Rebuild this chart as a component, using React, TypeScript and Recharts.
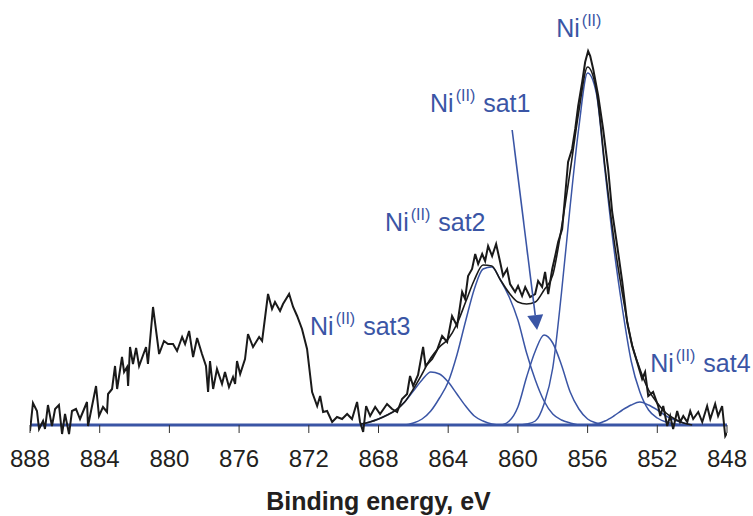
import React from 'react';
import { LineChart, Line, XAxis, YAxis, ReferenceLine, ReferenceDot, Label } from 'recharts';

const BLUE = '#3A55A5';
const BLACK = '#1A1A1A';
const FONT = '"Liberation Sans", Arial, Helvetica, sans-serif';

// Raw spectrum (binding energy, eV / intensity, arbitrary units)
const rawEnergy = [
  888.0, 887.83, 887.6, 887.48, 887.25, 887.14, 886.97, 886.74, 886.56, 886.34, 886.16, 885.99, 885.76, 885.59, 885.36, 885.13,
  884.73, 884.67, 884.21, 884.04, 883.81, 883.58, 883.52, 883.29, 883.12, 883.0, 882.72, 882.6, 882.43, 882.37, 882.26, 882.09,
  881.91, 881.74, 881.34, 881.23, 880.94, 880.59, 880.31, 880.08, 879.79, 879.56, 879.27, 879.1, 878.87, 878.64, 878.41, 878.13,
  877.9, 877.78, 877.67, 877.49, 877.27, 876.98, 876.81, 876.58, 876.35, 876.23, 876.12, 875.94, 875.66, 875.49, 875.2, 874.85,
  874.68, 874.34, 874.11, 873.94, 873.65, 873.48, 873.13, 872.9, 872.67, 872.39, 872.1, 871.81, 871.52, 871.35, 871.18, 870.95,
  870.66, 870.38, 870.09, 869.8, 869.52, 869.23, 869.06, 868.88, 868.71, 868.48, 868.19, 867.91, 867.51, 867.22, 866.93, 866.65,
  866.36, 866.19, 866.01, 865.73, 865.44, 865.3, 864.92, 864.64, 864.35, 864.06, 863.78, 863.49, 863.2, 863.03, 862.86, 862.63,
  862.45, 862.28, 862.05, 861.88, 861.71, 861.48, 861.25, 861.02, 860.85, 860.62, 860.45, 860.16, 859.99, 859.76, 859.58, 859.3,
  859.01, 858.84, 858.61, 858.44, 858.26, 858.03, 857.86, 857.69, 857.46, 857.29, 857.12, 856.89, 856.71, 856.54, 856.31, 856.14,
  855.97, 855.85, 855.68, 855.39, 855.11, 854.82, 854.59, 854.3, 854.01, 853.73, 853.44, 853.16, 852.87, 852.7, 852.52, 852.24,
  851.95, 851.83, 851.66, 851.43, 851.26, 851.09, 850.86, 850.69, 850.51, 850.28, 850.11, 849.94, 849.65, 849.42, 849.14, 848.96,
  848.68, 848.51, 848.28, 848.1, 848.0,
];
const rawCounts = [
  -6, 22, 14, -4, 4, -4, 20, -1, 16, 20, -9, 11, -9, 14, 16, 6,
  23, -1, 39, 9, 18, 13, 31, 36, 59, 36, 68, 53, 58, 39, 78, 61,
  77, 59, 78, 61, 118, 71, 84, 81, 81, 74, 88, 81, 94, 68, 87, 71,
  59, 33, 64, 36, 56, 41, 53, 38, 48, 41, 64, 51, 66, 91, 78, 88,
  84, 131, 116, 123, 114, 121, 131, 118, 109, 96, 76, 33, 19, 29, 13, 14,
  3, 8, 6, 11, 6, 23, 3, -7, 19, 9, 18, 11, 21, 16, 13, 26,
  31, 49, 39, 50, 78, 59, 66, 75, 89, 83, 109, 99, 133, 126, 149, 156,
  171, 161, 171, 164, 179, 169, 181, 163, 149, 156, 141, 133, 139, 129, 138, 128,
  131, 144, 138, 153, 131, 156, 169, 183, 196, 229, 263, 276, 296, 319, 343, 363,
  374, 369, 356, 329, 296, 256, 213, 179, 143, 103, 79, 63, 46, 53, 29, 33,
  19, 9, 19, -1, 9, -4, 14, 3, 9, 3, 14, 6, 13, 3, 19, 6,
  21, 9, 19, -11, -8,
];

// Fitted components on a common energy grid
const fitEnergy = [
  869, 868.5, 868, 867.5, 867, 866.5, 866, 865.5, 865, 864.5, 864, 863.5, 863, 862.5, 862, 861.5, 861, 860.5, 860, 859.5,
  859, 858.5, 858, 857.5, 857, 856.5, 856, 855.5, 855, 854.5, 854, 853.5, 853, 852.5, 852, 851.5, 851, 850.5, 850,
];
const peakNi = [
  0, 0, 0, 0, 0, 0, 0, 0, 0, 0, 0, 0, 0, 0, 0, 0, 0, 0, 0, 1,
  4, 21, 57, 132, 219, 298, 352, 332, 254, 178, 116, 64, 33, 15, 7, 3, 1, 0, 0,
];
const peakSat1 = [
  0, 0, 0, 0, 0, 0, 0, 0, 0, 0, 0, 0, 0, 0, 0, 0, 0, 4, 18, 48,
  74, 90, 82, 60, 33, 16, 6, 2, 0, 0, 0, 0, 0, 0, 0, 0, 0, 0, 0,
];
const peakSat2 = [
  0, 0, 0, 0, 0, 0, 2, 6, 14, 27, 43, 70, 104, 136, 156, 158, 145, 128, 105, 72,
  45, 24, 11, 5, 2, 0, 0, 0, 0, 0, 0, 0, 0, 0, 0, 0, 0, 0, 0,
];
const peakSat3 = [
  1, 3, 6, 10, 15, 23, 34, 45, 53, 51, 43, 31, 19, 9, 4, 1, 0, 0, 0, 0,
  0, 0, 0, 0, 0, 0, 0, 0, 0, 0, 0, 0, 0, 0, 0, 0, 0, 0, 0,
];
const peakSat4 = [
  0, 0, 0, 0, 0, 0, 0, 0, 0, 0, 0, 0, 0, 0, 0, 0, 0, 0, 0, 0,
  0, 0, 0, 0, 0, 0, 0, 1, 4, 9, 15, 20, 23, 20, 15, 9, 5, 2, 0,
];

const TICKS = [888, 884, 880, 876, 872, 868, 864, 860, 856, 852, 848];

// Annotation anchors (eV, intensity)
const labelNames = ['', 'sat1', 'sat2', 'sat3', 'sat4'];
const labelEnergy = [857.8, 865.04, 867.62, 871.93, 852.41];
const labelLevel = [388, 313, 194, 90, 53];
const arrowFrom = { e: 860.33, v: 295 };
const arrowTo = { e: 858.9, v: 95 };

const rawData = rawEnergy.map((e, i) => ({ e, v: rawCounts[i] }));
const fitData = fitEnergy.map((e, i) => ({
  e,
  p0: peakNi[i],
  s1: peakSat1[i],
  s2: peakSat2[i],
  s3: peakSat3[i],
  s4: peakSat4[i],
  env: peakNi[i] + peakSat1[i] + peakSat2[i] + peakSat3[i] + peakSat4[i],
}));

const AxisTick = (props: any) => {
  const { x, y, payload } = props;
  return (
    <g>
      <line x1={x} x2={x} y1={y - 20} y2={y - 12} stroke="#333" strokeWidth={1} />
      <text x={x} y={y + 22} textAnchor="middle" fontSize={24} fontFamily={FONT} fill="#231F20">
        {payload.value}
      </text>
    </g>
  );
};

const NiText = ({ cx, cy, suffix }: any) => (
  <text x={cx} y={cy} fill={BLUE} fontSize={25} fontFamily={FONT}>
    Ni
    <tspan fontSize={16} dx={2} dy={-11}>(II)</tspan>
    {suffix ? (
      <tspan fontSize={25} dx={8} dy={11}>{suffix}</tspan>
    ) : null}
  </text>
);

const Arrow = (props: any) => {
  const { x1, y1, x2, y2 } = props;
  if ([x1, y1, x2, y2].some((n) => typeof n !== 'number' || isNaN(n))) return null;
  const dx = x2 - x1;
  const dy = y2 - y1;
  const len = Math.sqrt(dx * dx + dy * dy) || 1;
  const ux = dx / len;
  const uy = dy / len;
  const hl = 15;
  const hw = 8;
  const bx = x2 - ux * hl;
  const by = y2 - uy * hl;
  const px = -uy;
  const py = ux;
  return (
    <g>
      <line x1={x1} y1={y1} x2={bx} y2={by} stroke={BLUE} strokeWidth={1.6} />
      <polygon
        points={`${x2},${y2} ${bx + px * hw},${by + py * hw} ${bx - px * hw},${by - py * hw}`}
        fill={BLUE}
      />
    </g>
  );
};

export default function App() {
  return (
    <div style={{ position: 'absolute', left: 0, top: 0, width: 753, height: 516, background: '#fff' }}>
      <LineChart width={753} height={516} margin={{ top: 45, right: 26, bottom: 31, left: 30 }}>
        <XAxis
          type="number"
          dataKey="e"
          domain={[848, 888]}
          reversed
          ticks={TICKS}
          interval={0}
          axisLine={false}
          tickLine={false}
          tickSize={0}
          tickMargin={0}
          height={40}
          tick={<AxisTick />}
          allowDataOverflow
        >
          <Label
            content={(p: any) => {
              const vb = p.viewBox || {};
              return (
                <text
                  x={vb.x + vb.width / 2}
                  y={vb.y + 65}
                  textAnchor="middle"
                  fontSize={25}
                  fontWeight="bold"
                  fontFamily={FONT}
                  fill="#231F20"
                >
                  Binding energy, eV
                </text>
              );
            }}
          />
        </XAxis>
        <YAxis hide type="number" domain={[-20, 380]} />
        <ReferenceLine y={0} stroke={BLUE} strokeWidth={3} ifOverflow="visible" />
        <Line data={fitData} dataKey="p0" type="monotone" stroke={BLUE} strokeWidth={1.5} dot={false} isAnimationActive={false} />
        <Line data={fitData} dataKey="s1" type="monotone" stroke={BLUE} strokeWidth={1.5} dot={false} isAnimationActive={false} />
        <Line data={fitData} dataKey="s2" type="monotone" stroke={BLUE} strokeWidth={1.5} dot={false} isAnimationActive={false} />
        <Line data={fitData} dataKey="s3" type="monotone" stroke={BLUE} strokeWidth={1.5} dot={false} isAnimationActive={false} />
        <Line data={fitData} dataKey="s4" type="monotone" stroke={BLUE} strokeWidth={1.5} dot={false} isAnimationActive={false} />
        <Line data={rawData} dataKey="v" type="linear" stroke={BLACK} strokeWidth={2} dot={false} isAnimationActive={false} />
        <Line data={fitData} dataKey="env" type="monotone" stroke={BLACK} strokeWidth={1.6} dot={false} isAnimationActive={false} />
        <ReferenceLine
          segment={[{ x: arrowFrom.e, y: arrowFrom.v }, { x: arrowTo.e, y: arrowTo.v }]}
          ifOverflow="visible"
          shape={(p: any) => <Arrow {...p} />}
        />
        {labelNames.map((name, i) => (
          <ReferenceDot
            key={i}
            x={labelEnergy[i]}
            y={labelLevel[i]}
            r={0}
            ifOverflow="visible"
            shape={(p: any) => <NiText cx={p.cx} cy={p.cy} suffix={name} />}
          />
        ))}
      </LineChart>
    </div>
  );
}
